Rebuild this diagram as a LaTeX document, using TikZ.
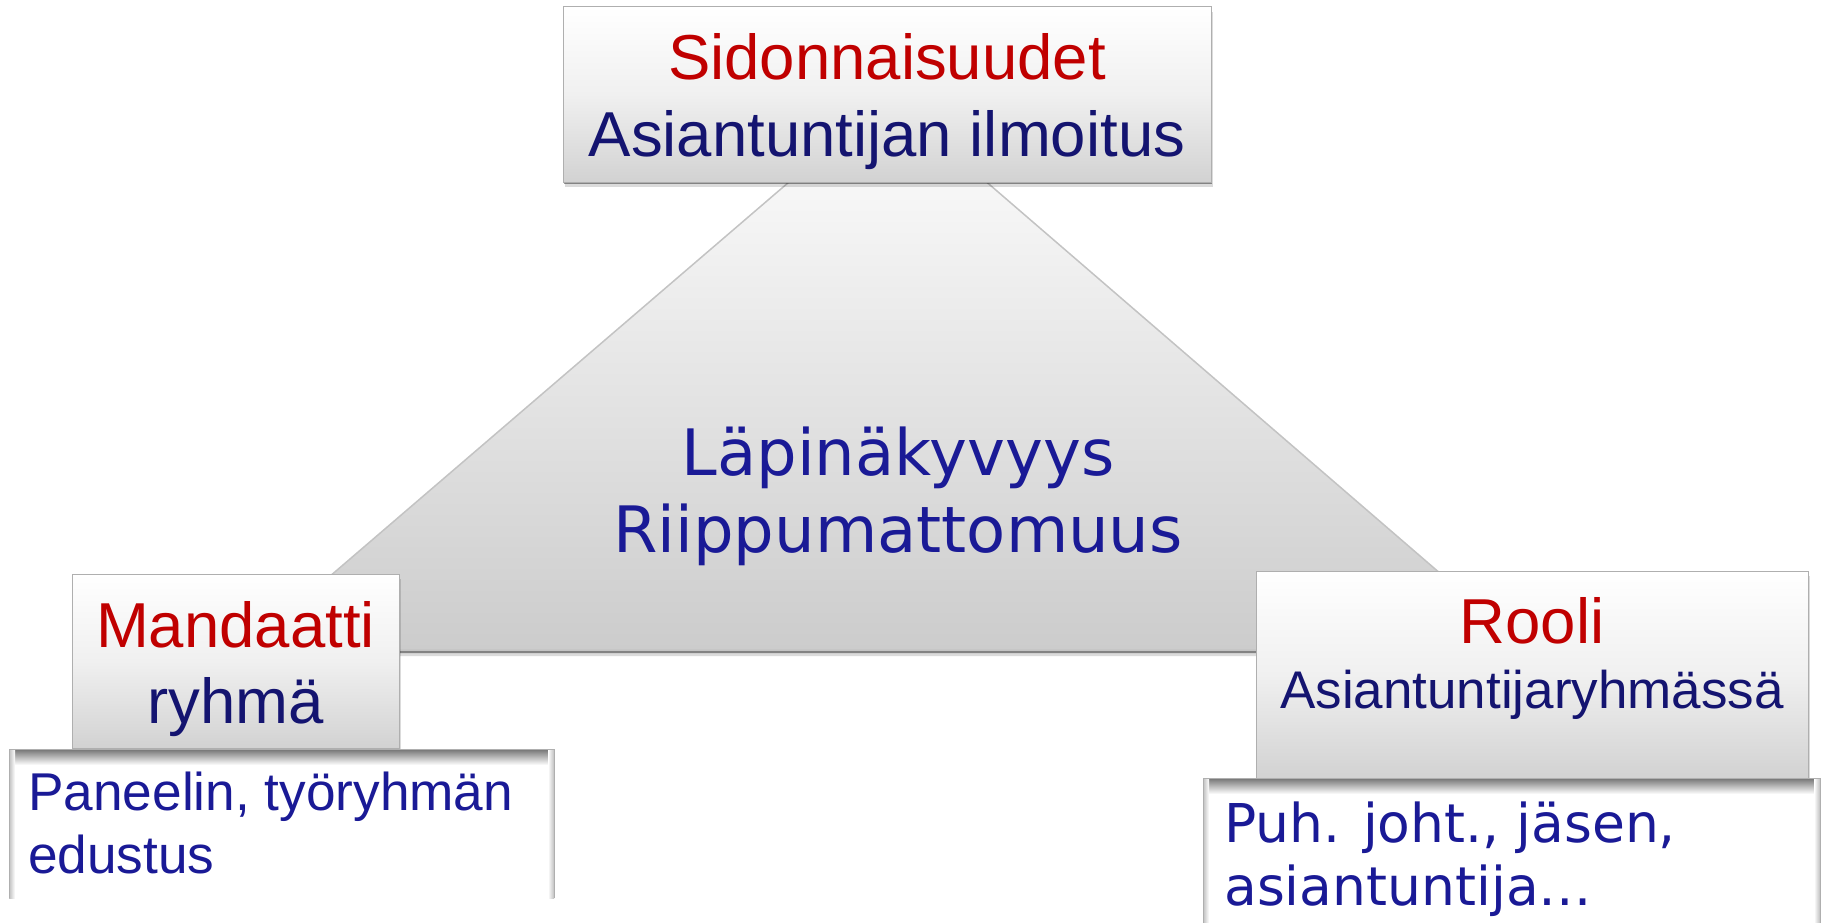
\documentclass[tikz,border=0pt]{standalone}
\usepackage{fontspec}
\setmainfont{Liberation Sans}
\newfontfamily\dejavu{DejaVu Sans}
\usetikzlibrary{shadows}
\definecolor{redtxt}{RGB}{192,0,0}
\definecolor{navytxt}{RGB}{20,20,112}
\definecolor{bluetxt}{RGB}{26,26,150}
\definecolor{boxbot}{RGB}{210,210,210}
\definecolor{boxmid}{RGB}{240,240,240}
\definecolor{tribot}{RGB}{204,204,204}
\definecolor{edgegray}{RGB}{175,175,175}
\definecolor{triedge}{RGB}{195,195,195}
\begin{document}
\begin{tikzpicture}[x=1pt,y=-1pt,
  softshadow/.style={
    drop shadow={shadow xshift=1pt, shadow yshift=-2pt, opacity=.40, fill=black},
    drop shadow={shadow xshift=2pt, shadow yshift=-5pt, opacity=.14, fill=black}},
  gbox/.style={rectangle, inner sep=0pt, outer sep=0pt, draw=edgegray, line width=1pt,
    top color=white, bottom color=boxbot, middle color=boxmid, softshadow},
  panel/.style={rectangle, inner sep=0pt, outer sep=0pt, fill=white, draw=none},
  bigtxt/.style={inner sep=0pt, anchor=base, font=\fontsize{63.5}{70}\selectfont},
  midtxt/.style={inner sep=0pt, anchor=base, font=\fontsize{53}{60}\selectfont},
  triangtxt/.style={inner sep=0pt, anchor=base, text=bluetxt, font=\dejavu\fontsize{64}{72}\selectfont},
  paneltxt/.style={inner sep=0pt, anchor=base west, text=bluetxt, font=\fontsize{53.2}{60}\selectfont},
  puhtxt/.style={inner sep=0pt, anchor=base west, text=bluetxt, font=\dejavu\fontsize{53.5}{60}\selectfont}
]
\useasboundingbox (0,0) rectangle (1822,923);
\fill[white] (0,0) rectangle (1822,923);

% central triangle
\coordinate (apex) at (888,97);
\coordinate (bl) at (244,650);
\coordinate (br) at (1529,650);
\path[top color=white, bottom color=tribot,
  drop shadow={shadow xshift=0pt, shadow yshift=-3pt, opacity=.40, fill=black},
  drop shadow={shadow xshift=0pt, shadow yshift=-6pt, opacity=.14, fill=black}]
  (apex) -- (br) -- (bl) -- cycle;
\draw[triedge, line width=1.5pt, line join=round] (apex) -- (br) -- (bl) -- cycle;
\node[triangtxt] (lapi) at (898,475) {Läpinäkyvyys};
\node[triangtxt] (riip) at (898,552) {Riippumattomuus};

% top box
\node[gbox, minimum width=648pt, minimum height=175pt, anchor=north west] (topbox) at (563,7) {};
\node[bigtxt, text=redtxt] (sid) at (887,80) {Sidonnaisuudet};
\node[bigtxt, text=navytxt] (ilm) at (887,157) {Asiantuntijan ilmoitus};

% left stack
\node[gbox, minimum width=327pt, minimum height=174pt, anchor=north west] (mbox) at (72,574) {};
\node[bigtxt, text=redtxt] (mand) at (235.5,647) {Mandaatti};
\node[bigtxt, text=navytxt] (ryh) at (235.5,723) {ryhmä};

\node[panel, minimum width=545pt, minimum height=149pt, anchor=north west] (pbox) at (9,749) {};
\shade[top color=black!55, bottom color=white] (pbox.north west) rectangle ([yshift=-16pt]pbox.north east);
\shade[left color=black!25, right color=white] (pbox.north west) rectangle ([xshift=6pt]pbox.south west);
\shade[left color=white, right color=black!25] ([xshift=-6pt]pbox.north east) rectangle (pbox.south east);
\draw[edgegray, line width=1pt] (pbox.south west) -- (pbox.north west) -- (pbox.north east) -- (pbox.south east);
\node[paneltxt] (pan1) at (28,810) {Paneelin, työryhmän};
\node[paneltxt] (pan2) at (28,873) {edustus};

% right stack
\node[gbox, minimum width=552pt, minimum height=207pt, anchor=north west] (rbox) at (1256,571) {};
\node[bigtxt, text=redtxt] (rool) at (1532,643) {Rooli};
\node[midtxt, text=navytxt] (asry) at (1532,708) {Asiantuntijaryhmässä};

\node[panel, minimum width=617pt, minimum height=146pt, anchor=north west] (qbox) at (1203,778) {};
\shade[top color=black!55, bottom color=white] (qbox.north west) rectangle ([yshift=-16pt]qbox.north east);
\shade[left color=black!25, right color=white] (qbox.north west) rectangle ([xshift=6pt]qbox.south west);
\shade[left color=white, right color=black!25] ([xshift=-6pt]qbox.north east) rectangle (qbox.south east);
\draw[edgegray, line width=1pt] (qbox.south west) -- (qbox.north west) -- (qbox.north east) -- (qbox.south east);
\node[puhtxt] (puh1) at (1224,842) {Puh. joht., jäsen,};
\node[puhtxt] (puh2) at (1224,905) {asiantuntija…};
\end{tikzpicture}
\end{document}
